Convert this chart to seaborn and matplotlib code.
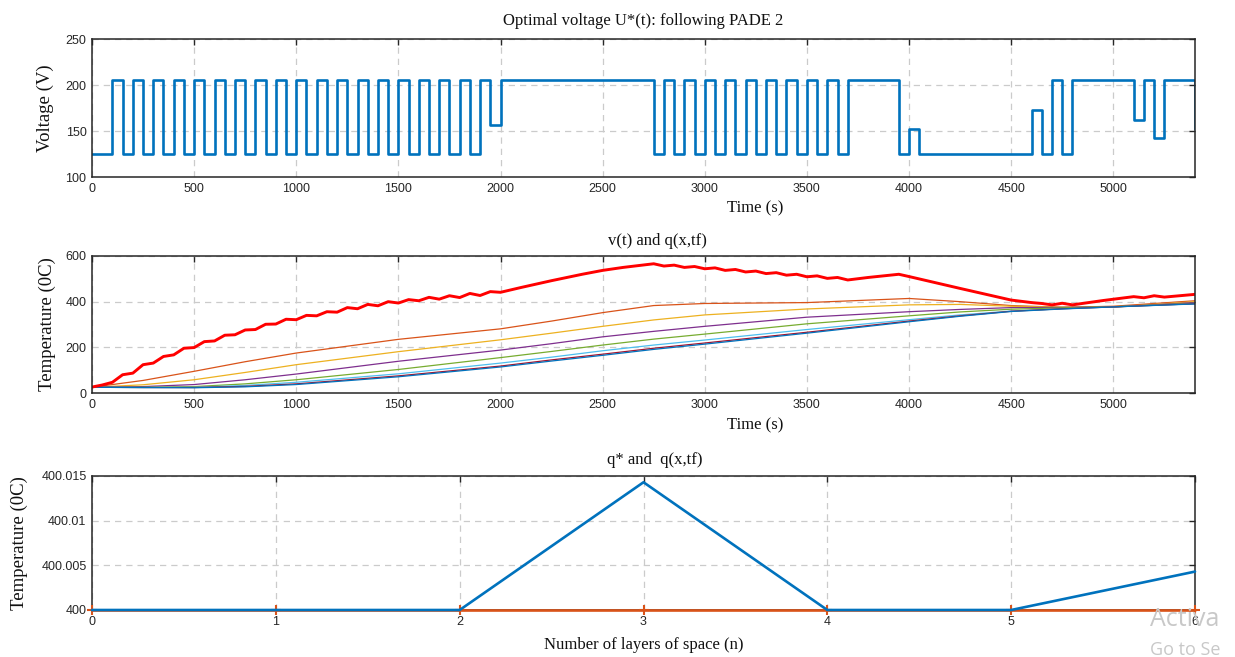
import numpy as np
import pandas as pd
import matplotlib
matplotlib.use("Agg")
import matplotlib.pyplot as plt
import seaborn as sns

# ---------------- data ----------------
# Optimal voltage U*(t) (step signal, value holds until next switching time)
volt_t = [0, 100, 150, 200, 250, 300, 350, 400, 450, 500, 550, 600, 650, 700, 750,
          800, 850, 900, 950, 1000, 1050, 1100, 1150, 1200, 1250, 1300, 1350, 1400,
          1450, 1500, 1550, 1600, 1650, 1700, 1750, 1800, 1850, 1900, 1950, 2000,
          2750, 2800, 2850, 2900, 2950, 3000, 3050, 3100, 3150, 3200, 3250, 3300,
          3350, 3400, 3450, 3500, 3550, 3600, 3650, 3700,
          3950, 4000, 4050, 4600, 4650, 4700, 4750, 4800, 5100, 5150, 5200, 5250, 5400]
volt_u = [125, 205, 125, 205, 125, 205, 125, 205, 125, 205, 125, 205, 125, 205, 125,
          205, 125, 205, 125, 205, 125, 205, 125, 205, 125, 205, 125, 205,
          125, 205, 125, 205, 125, 205, 125, 205, 125, 205, 157, 205,
          125, 205, 125, 205, 125, 205, 125, 205, 125, 205, 125, 205,
          125, 205, 125, 205, 125, 205, 125, 205,
          125, 152, 125, 173, 125, 205, 125, 205, 162, 205, 142, 205, 152]

# v(t): surface temperature (red)
v_t = [0, 50, 100, 150, 200, 250, 300, 350, 400, 450, 500, 550, 600, 650, 700, 750,
       800, 850, 900, 950, 1000, 1050, 1100, 1150, 1200, 1250, 1300, 1350, 1400,
       1450, 1500, 1550, 1600, 1650, 1700, 1750, 1800, 1850, 1900, 1950, 2000,
       2100, 2250, 2400, 2500, 2600,
       2750, 2800, 2850, 2900, 2950, 3000, 3050, 3100, 3150, 3200, 3250, 3300,
       3350, 3400, 3450, 3500, 3550, 3600, 3650, 3700,
       3800, 3950, 4000, 4250, 4500,
       4600, 4650, 4700, 4750, 4800,
       4950, 5100, 5150, 5200, 5250, 5400]
v_T = [26, 35, 47, 80, 87, 124, 131, 160, 167, 196, 199, 225, 228, 253, 255, 276,
       278, 301, 302, 323, 321, 340, 338, 356, 354, 374, 369, 388, 382,
       400, 394, 409, 404, 419, 411, 426, 418, 436, 427, 444, 441,
       462, 492, 520, 537, 550,
       566, 556, 560, 550, 554, 544, 548, 537, 541, 530, 534, 523,
       527, 516, 520, 509, 513, 502, 506, 495,
       506, 520, 510, 458, 407,
       396, 392, 386, 393, 386,
       405, 422, 417, 426, 420, 432]

# q(x, t) for the space layers
layer_t = [0, 250, 500, 750, 1000, 1500, 2000, 2250, 2500, 2750, 3000, 3500,
           4000, 4250, 4500, 4750, 5000, 5400]
layer_orange = [25, 55, 95, 137, 175, 235, 281, 315, 352, 383, 392, 396, 414, 400, 383, 375, 380, 404]
layer_yellow = [25, 36, 58, 90, 124, 181, 233, 262, 292, 320, 342, 368, 386, 388, 380, 376, 376, 400]
layer_purple = [25, 28, 37, 58, 83, 139, 188, 216, 246, 270, 292, 332, 356, 366, 374, 375, 377, 396]
layer_green = [25, 25, 28, 40, 58, 103, 155, 182, 210, 236, 258, 303, 338, 355, 367, 373, 378, 393]
layer_cyan = [25, 24, 25, 33, 47, 84, 131, 157, 185, 210, 232, 278, 321, 342, 359, 369, 377, 391]
layer_darkred = [25, 24, 24, 29, 40, 75, 118, 145, 170, 196, 219, 266, 315, 338, 358, 369, 377, 391]
layer_blue = [25, 24, 23, 27, 37, 71, 114, 140, 165, 191, 214, 262, 312, 336, 357, 368, 377, 390]

# final profile vs target
layers_n = [0, 1, 2, 3, 4, 5, 6]
q_final = [400.0, 400.0, 400.0, 400.0143, 400.0, 400.0, 400.0043]
q_star = [400.0, 400.0, 400.0, 400.0, 400.0, 400.0, 400.0]

bottom_yticks = [400, 400.005, 400.01, 400.015]
bottom_yticklabels = ['400', '400.005', '400.01', '400.015']

# ---------------- style ----------------
sns.set_style("white")
plt.rcParams['font.family'] = ['Liberation Sans', 'DejaVu Sans']
SERIF = ['Liberation Serif', 'DejaVu Serif']
AXC = '#262626'

fig = plt.figure(figsize=(12.35, 6.57), dpi=100)
L, W = 92 / 1235, (1195 - 92) / 1235
ax1 = fig.add_axes([L, 1 - 177 / 657, W, 138 / 657])
ax2 = fig.add_axes([L, 1 - 393 / 657, W, 137 / 657])
ax3 = fig.add_axes([L, 1 - 610 / 657, W, 134 / 657])


def style(ax):
    ax.grid(True, linestyle=(0, (5, 4)), color='#cbcbcb', linewidth=0.9)
    ax.set_axisbelow(True)
    ax.tick_params(direction='in', top=True, right=True, length=4, width=1.0,
                   color=AXC, labelsize=9, pad=4, labelcolor=AXC)
    for s in ax.spines.values():
        s.set_visible(True)
        s.set_color(AXC)
        s.set_linewidth(1.1)


# ---- top: voltage ----
sns.lineplot(x=volt_t, y=volt_u, ax=ax1, color='#0072BD', linewidth=1.9,
             drawstyle='steps-post', estimator=None)
ax1.set_xlim(0, 5400)
ax1.set_ylim(100, 250)
ax1.set_xticks([0, 500, 1000, 1500, 2000, 2500, 3000, 3500, 4000, 4500, 5000])
ax1.set_yticks([100, 150, 200, 250])
style(ax1)
ax1.set_title('Optimal voltage U*(t): following PADE 2', family=SERIF, fontsize=12,
              pad=10, color='#111111')
ax1.set_xlabel('Time (s)', family=SERIF, fontsize=12, color='#111111')
ax1.xaxis.set_label_coords(0.601, -0.17)
ax1.set_ylabel('Voltage (V)', family=SERIF, fontsize=13.5, color='#111111')
ax1.yaxis.set_label_coords(-0.0345, 0.5)

# ---- middle: temperatures ----
layer_series = [(layer_orange, '#D95319'), (layer_yellow, '#EDB120'),
                (layer_purple, '#7E2F8E'), (layer_green, '#77AC30'),
                (layer_cyan, '#4DBEEE'), (layer_darkred, '#A2142F'),
                (layer_blue, '#0072BD')]
for vals, col in layer_series:
    sns.lineplot(x=layer_t, y=vals, ax=ax2, color=col, linewidth=0.9, estimator=None)
sns.lineplot(x=v_t, y=v_T, ax=ax2, color='#FF0000', linewidth=2.1, estimator=None)
ax2.set_xlim(0, 5400)
ax2.set_ylim(0, 600)
ax2.set_xticks([0, 500, 1000, 1500, 2000, 2500, 3000, 3500, 4000, 4500, 5000])
ax2.set_yticks([0, 200, 400, 600])
style(ax2)
ax2.set_title('v(t) and q(x,tf)', family=SERIF, fontsize=12, pad=8, x=0.513,
              color='#111111')
ax2.set_xlabel('Time (s)', family=SERIF, fontsize=12, color='#111111')
ax2.xaxis.set_label_coords(0.601, -0.18)
ax2.set_ylabel('Temperature (0C)', family=SERIF, fontsize=13.5, color='#111111')
ax2.yaxis.set_label_coords(-0.0326, 0.5)

# ---- bottom: final profile ----
sns.lineplot(x=layers_n, y=q_star, ax=ax3, color='#D95319', linewidth=1.9,
             marker='+', markersize=7, markeredgewidth=1.5,
             markeredgecolor='#D95319', markerfacecolor='#D95319',
             estimator=None, clip_on=False, zorder=3)
sns.lineplot(x=layers_n, y=q_final, ax=ax3, color='#0072BD', linewidth=1.9,
             estimator=None, clip_on=False, zorder=4)
ax3.set_xlim(0, 6)
ax3.set_ylim(400, 400.015)
ax3.set_xticks(layers_n)
ax3.set_yticks(bottom_yticks)
ax3.set_yticklabels(bottom_yticklabels)
style(ax3)
ax3.set_title('q* and  q(x,tf)', family=SERIF, fontsize=12, pad=9, x=0.51,
              color='#111111')
ax3.set_xlabel('Number of layers of space (n)', family=SERIF, fontsize=12,
               color='#111111')
ax3.xaxis.set_label_coords(0.5, -0.2)
ax3.set_ylabel('Temperature (0C)', family=SERIF, fontsize=13.5, color='#111111')
ax3.yaxis.set_label_coords(-0.058, 0.5)

# watermark text visible in the reference corner
fig.text(1150 / 1235, 1 - 619 / 657, 'Activa', color='#c8c8c8', fontsize=18,
         family=['Open Sans', 'DejaVu Sans'], ha='left', va='center')
fig.text(1150 / 1235, 1 - 650 / 657, 'Go to Se', color='#c8c8c8', fontsize=13,
         family=['Open Sans', 'DejaVu Sans'], ha='left', va='center')

fig.savefig('out.png', dpi=100)
